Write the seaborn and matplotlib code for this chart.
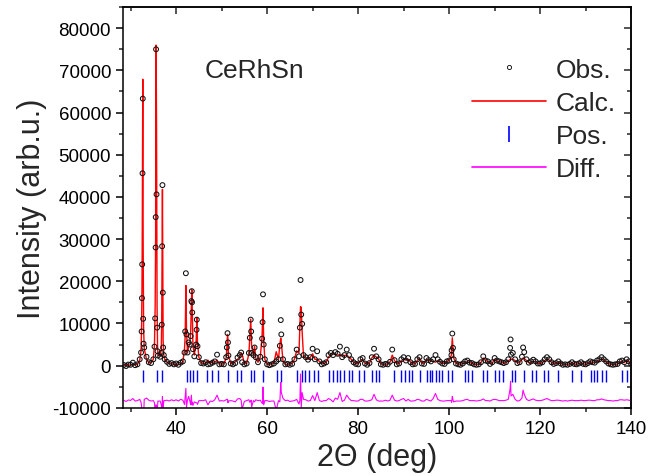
import numpy as np
import pandas as pd
import matplotlib
matplotlib.use('Agg')
import matplotlib.pyplot as plt
import seaborn as sns
from matplotlib.lines import Line2D
from matplotlib.ticker import MultipleLocator

# scan grid, 0.5 deg step (28.5 ... 140.0)
grid_theta = np.arange(28.5, 140.01, 0.5)

grid_obs = [
    150, -100, 250,
    200, 700, 100, 300, 1500, 16000, 4300, 2100, 800, 600, 1500, 28000, 2400, 2100, 42800, 1500, 900, 400, 600, 300,
    500, 200, 700, 1000, 8100, 3100, 5000, 15000, 2200, 8500, 2000, 600, 500, 800, 300, 400, 700, 1000, 2600, 300,
    400, 300, 2000, 2400, 500, 300, 600, 1900, 2500, 800, 300, 500, 3000, 8100, 2500, 2000, 800, 2100, 10300, 1500,
    300, 100, 300, 500, 1000, 1500, 10800, 1500, 300, 400, 200, 400, 1500, 3800, 2200, 12100, 2500, 2000, 1400, 2000,
    4000, 1500, 3400, 1000, 300, 500, 800, 2500, 3000, 2500, 3200, 2800, 4500, 2000, 2500, 3800, 2500, 1500, 800, 400,
    300, 1500, 1800, 500, 200, 600, 2000, 4000, 2200, 1500, 300, 200, 400, 300, 900, 3800, 1300, 300, 500, 1500,
    2000, 1200, 1800, 800, 300, 400, 1500, 2000, 500, 400, 1800, 1300, 1000, 1500, 2500, 1500, 900, 500, 400, 1000,
    1200, 2500, 1500, 500, 300, 200, 500, 1000, 1200, 700, 600, 300, 200, 300, 800, 2200, 1200, 1000, 400, 800,
    1800, 1200, 1000, 800, 600, 800, 1500, 6200, 3000, 1500, 600, 800, 2100, 3200, 1500, 700, 1000, 1400, 1000, 500,
    500, 800, 1500, 2000, 1500, 800, 400, 600, 1000, 500, 200, 300, 200, 400, 800, 400, 300, 500, 800, 400,
    300, 600, 1000, 800, 700, 1200, 1500, 2000, 1500, 1000, 500, 300, 200, 300, 400, 1000, 1200, 800, 1500, 1000,
    400,
]

grid_calc = [
    100, 100, 100,
    150, 200, 200, 300, 1200, 18000, 4000, 1500, 700, 700, 1500, 30000, 2500, 2200, 41800, 1500, 800, 500, 400, 350,
    300, 300, 400, 900, 7000, 3000, 5000, 16000, 2500, 9000, 2000, 600, 500, 600, 1300, 500, 900, 800, 1300, 400,
    400, 400, 1800, 2500, 500, 400, 900, 1500, 2000, 2800, 500, 500, 2800, 8000, 2500, 1800, 800, 2000, 11000, 1500,
    300, 300, 400, 600, 3300, 1500, 6500, 1000, 300, 300, 400, 500, 1500, 3500, 3000, 13700, 2200, 1800, 1500, 2000,
    2800, 1500, 1500, 1000, 500, 500, 800, 2000, 2800, 2800, 2600, 2500, 2600, 2200, 2400, 2500, 2000, 1500, 800, 500,
    400, 1200, 1500, 600, 300, 600, 1800, 2500, 2000, 1600, 400, 300, 300, 400, 800, 2500, 1200, 400, 500, 1200,
    1500, 1300, 1500, 900, 400, 400, 1200, 1800, 600, 500, 1500, 1200, 1100, 1000, 800, 1200, 900, 600, 500, 1000,
    1200, 2500, 1800, 600, 400, 300, 500, 800, 900, 700, 600, 300, 300, 300, 700, 1800, 1200, 1000, 500, 600,
    1500, 1000, 1000, 800, 600, 700, 1200, 1600, 1500, 1200, 700, 800, 1500, 1700, 1200, 700, 800, 1000, 900, 500,
    500, 700, 1200, 1500, 1300, 800, 400, 500, 900, 500, 300, 300, 300, 400, 700, 400, 300, 500, 700, 400,
    300, 500, 900, 800, 700, 1000, 1300, 1600, 1300, 900, 500, 300, 300, 300, 400, 800, 1000, 700, 1300, 900,
    400,
]

# extra points on the Bragg peaks
peak_theta = [32.3, 32.42, 32.55, 32.62, 32.68, 32.76, 32.86,
              35.25, 35.4, 35.52, 35.6, 35.7, 35.82, 35.92,
              36.75, 36.85, 36.93, 37.08, 37.15, 37.3,
              41.85, 42.15, 42.28, 42.75, 43.2, 43.35, 43.45, 43.55, 43.7, 44.4, 44.55, 44.7,
              51.15, 51.3, 51.4,
              54.3,
              56.2, 56.4, 56.6, 57.25,
              58.9, 59.1, 59.25,
              62.8, 63.12,
              67.2, 67.35, 67.7,
              100.55, 100.7, 100.85,
              113.4, 113.6, 116.25]
peak_obs = [3100, 8100, 24000, 45600, 63300, 11100, 5200,
            4500, 11200, 35200, 75000, 40600, 9000, 3400,
            3000, 9700, 28300, 17300, 4300, 2500,
            3100, 21900, 7400, 5500, 7000, 15300, 17650, 12600, 3900, 5000, 10900, 4600,
            4300, 7700, 5500,
            3100,
            6600, 10900, 3000, 4300,
            6400, 16900, 5000,
            4700, 7400,
            9000, 20300, 9900,
            3600, 7600, 4200,
            4200, 2600, 4300]
peak_calc = [3500, 9500, 27000, 50000, 67900, 29500, 9000,
             5000, 14000, 45000, 76000, 57700, 14000, 5000,
             4000, 12000, 30000, 20000, 6000, 2500,
             4000, 19000, 9000, 4500, 8000, 14000, 18000, 13000, 5000, 5500, 11400, 5500,
             4000, 7400, 6000,
             3000,
             7000, 11000, 4500, 4600,
             7000, 13700, 6000,
             5000, 5500,
             9000, 14000, 8000,
             4000, 6600, 4000,
             1400, 1500, 1800]

# reflection positions
pos_theta = [32.8, 35.76, 37.0, 42.35, 43.1, 43.8, 44.5, 46.9, 48.0, 49.1, 51.3, 53.3, 54.2,
             56.4, 57.2, 59.2, 62.1, 63.0, 66.5, 67.6, 68.4, 69.2, 70.2, 71.1, 73.5, 74.4,
             75.3, 76.0, 76.9, 77.9, 78.7, 80.3, 81.2, 83.0, 83.9, 84.5, 87.8, 89.4, 90.3,
             91.1, 91.8, 93.6, 95.1, 95.8, 96.3, 97.1, 97.7, 98.5, 99.8, 100.7, 103.4, 104.1,
             105.0, 107.5, 108.4, 110.1, 111.0, 111.9, 113.9, 114.5, 116.5, 118.2, 119.1,
             120.9, 121.8, 124.0, 126.9, 128.9, 131.1, 131.9, 132.6, 133.6, 134.4, 138.0, 139.1]
pos_level = -2500
diff_offset = -8300

sns.set_theme(style='ticks')
plt.rcParams['font.family'] = ['Liberation Sans', 'DejaVu Sans']
plt.rcParams['axes.unicode_minus'] = False

df = pd.DataFrame({
    'theta': np.concatenate([grid_theta, peak_theta]),
    'obs': np.concatenate([grid_obs, peak_obs]),
    'calc': np.concatenate([grid_calc, peak_calc]),
}).sort_values('theta')
df['diff'] = df['obs'] - df['calc'] + diff_offset
pos = pd.DataFrame({'theta': pos_theta, 'y': pos_level})

fig, ax = plt.subplots(figsize=(6.5, 4.77), dpi=100)
fig.subplots_adjust(left=0.189, right=0.971, bottom=0.143, top=0.983)

sns.lineplot(data=df, x='theta', y='calc', color='#ff0000', lw=1.0, estimator=None, ax=ax, zorder=2)
sns.scatterplot(data=df, x='theta', y='obs', marker='o', s=12, fc='none', ec='#111111',
                linewidth=0.75, ax=ax, zorder=3)
sns.scatterplot(data=pos, x='theta', y='y', marker='|', s=70, color='#0000ff', linewidth=1.0, ax=ax, zorder=2)
sns.lineplot(data=df, x='theta', y='diff', color='#ff00ff', lw=0.8, estimator=None, ax=ax, zorder=2)

ax.text(46.3, 68400, 'CeRhSn', fontsize=19, va='baseline')

handles = [Line2D([], [], ls='none', marker='o', ms=3, mfc='none', mec='black', mew=0.6),
           Line2D([], [], color='#ff0000', lw=1.2),
           Line2D([], [], ls='none', marker='|', ms=11, mec='#0000ff', mew=1.2),
           Line2D([], [], color='#ff00ff', lw=1.2)]
ax.legend(handles, ['Obs.', 'Calc.', 'Pos.', 'Diff.'], loc='upper right', bbox_to_anchor=(0.99, 0.9),
          frameon=False, fontsize=19, handlelength=2.8, handletextpad=0.35, labelspacing=0.35,
          borderaxespad=0)

ax.set_xlim(28.3, 140)
ax.set_ylim(-10000, 85000)
ax.xaxis.set_major_locator(MultipleLocator(20))
ax.xaxis.set_minor_locator(MultipleLocator(10))
ax.yaxis.set_major_locator(MultipleLocator(10000))
ax.yaxis.set_minor_locator(MultipleLocator(5000))
ax.tick_params(which='major', direction='out', length=5, width=1.1, labelsize=13.5, colors='black')
ax.tick_params(which='minor', direction='out', length=3, width=1.1)

secx = ax.secondary_xaxis('top')
secx.xaxis.set_major_locator(MultipleLocator(20))
secx.xaxis.set_minor_locator(MultipleLocator(10))
secx.tick_params(which='major', direction='in', length=5, width=1.1, labeltop=False)
secx.tick_params(which='minor', direction='in', length=3, width=1.1)
secy = ax.secondary_yaxis('right')
secy.yaxis.set_major_locator(MultipleLocator(10000))
secy.yaxis.set_minor_locator(MultipleLocator(5000))
secy.tick_params(which='major', direction='in', length=5, width=1.1, labelright=False)
secy.tick_params(which='minor', direction='in', length=3, width=1.1)

for sp in ax.spines.values():
    sp.set_visible(True)
    sp.set_linewidth(1.1)
    sp.set_color('black')

ax.set_xlabel('2\u0398 (deg)', fontsize=22, labelpad=4)
ax.set_ylabel('Intensity (arb.u.)', fontsize=22, labelpad=4)

fig.savefig('out.png', dpi=100)
